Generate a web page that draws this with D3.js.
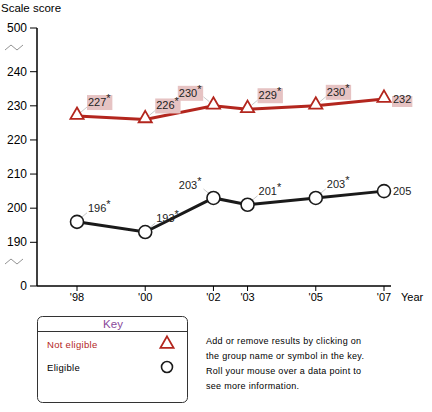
<!DOCTYPE html>
<html>

<head>
    <meta charset="UTF-8">
    <style>
        body { margin: 0; background: #fff; }
        svg { font-family: "Liberation Sans", Arial, sans-serif; }
        .info { font-size: 9px; letter-spacing: 0.3px; }
    </style>
    <title>Scale score by year</title>
</head>

<body>
    <svg></svg>
    <script src="https://d3js.org/d3.v7.min.js"></script>

    <script>
        let width = 432, height = 412;

        // chart data
        const years = [1998, 2000, 2002, 2003, 2005, 2007];
        const yearLabels = ["'98", "'00", "'02", "'03", "'05", "'07"];
        const notEligible = [227, 226, 230, 229, 230, 232];
        const eligible = [196, 193, 203, 201, 203, 205];
        const significant = [true, true, true, true, true, false];
        const yTicks = [190, 200, 210, 220, 230, 240];

        const red = "#b3261e", dark = "#1a1a1a";

        let svg = d3.select("svg")
            .attr("width", width)
            .attr("height", height)
            .attr("viewBox", "0 0 " + width + " " + height);

        // scales
        const x = d3.scaleLinear().domain([1998, 2007]).range([77, 384]);
        const y = d3.scaleLinear().domain([190, 240]).range([242.3, 71.7]);

        // y axis
        const yAxis = svg.append("g").attr("transform", "translate(37,0)");
        yAxis.append("line").attr("x1", 0).attr("x2", 0).attr("y1", 28).attr("y2", 286)
            .attr("stroke", "#000").attr("stroke-width", 1.5);
        const yt = yTicks.map(v => ({ label: v, pos: y(v) }))
            .concat([{ label: 500, pos: 28 }, { label: 0, pos: 286 }]);
        yAxis.selectAll(".yt").data(yt).enter().append("line")
            .attr("x1", -7).attr("x2", 0)
            .attr("y1", d => d.pos).attr("y2", d => d.pos)
            .attr("stroke", "#000");
        yAxis.selectAll(".yl").data(yt).enter().append("text")
            .attr("x", -10).attr("y", d => d.pos + 4)
            .attr("text-anchor", "end")
            .style("font-size", "12px")
            .text(d => d.label);

        // axis break marks
        [48, 262].forEach(function (by) {
            svg.append("path")
                .attr("d", "M5," + (by + 2) + " L11," + (by - 3) + " L17," + (by + 2) + " L23," + (by - 3))
                .attr("fill", "none").attr("stroke", "#777").attr("stroke-width", 0.8);
        });

        svg.append("text").attr("x", 1).attr("y", 12)
            .style("font-size", "11.5px").text("Scale score");

        // x axis
        svg.append("line").attr("x1", 37).attr("x2", 391).attr("y1", 286).attr("y2", 286)
            .attr("stroke", "#000").attr("stroke-width", 1.5);
        svg.selectAll(".xt").data(years).enter().append("line")
            .attr("x1", d => x(d)).attr("x2", d => x(d))
            .attr("y1", 286).attr("y2", 291).attr("stroke", "#000");
        svg.selectAll(".xl").data(years).enter().append("text")
            .attr("x", (d, i) => x(d)).attr("y", 301)
            .attr("text-anchor", "middle")
            .style("font-size", "11px")
            .text((d, i) => yearLabels[i]);
        svg.append("text").attr("x", 401).attr("y", 301)
            .style("font-size", "11px").text("Year");

        const line = d3.line().x(d => x(d.year)).y(d => y(d.v));

        function drawSeries(values, color, shape, pink) {
            const pts = years.map((yr, i) => ({ year: yr, v: values[i], i: i }));
            const g = svg.append("g");

            g.append("path").datum(pts)
                .attr("d", line)
                .attr("fill", "none")
                .attr("stroke", color)
                .attr("stroke-width", 3);

            // labels
            pts.forEach(function (d) {
                const px = x(d.year), py = y(d.v);
                let tx, ty, anchor = "start", lead = true;
                if (d.i === years.length - 1) {
                    tx = px + 9; ty = py + 4; lead = false;
                } else if (d.year === 2002) {
                    tx = px - 12; ty = py - 9; anchor = "end";
                } else {
                    tx = px + 11; ty = py - 10;
                }
                if (lead) {
                    const sx = anchor === "end" ? -1 : 1;
                    g.append("line")
                        .attr("x1", px + sx * 4).attr("y1", py - 4)
                        .attr("x2", px + sx * 10).attr("y2", py - 9)
                        .attr("stroke", "#bbb").attr("stroke-width", 0.8);
                }
                const t = g.append("text")
                    .attr("x", tx).attr("y", ty)
                    .attr("text-anchor", anchor)
                    .style("font-size", "11px")
                    .attr("fill", "#222");
                t.append("tspan").text(d.v);
                if (significant[d.i]) {
                    t.append("tspan").attr("dy", -4).style("font-size", "11px").text("*");
                }
                if (pink) {
                    const bb = t.node().getBBox();
                    g.insert("rect", "text")
                        .attr("x", bb.x - 1).attr("y", bb.y + 3)
                        .attr("width", bb.width + 2).attr("height", bb.height - 1)
                        .attr("fill", "#e6c3c3");
                }
            });

            // markers
            if (shape === "circle") {
                g.selectAll("circle").data(pts).enter().append("circle")
                    .attr("cx", d => x(d.year)).attr("cy", d => y(d.v))
                    .attr("r", 6.5)
                    .attr("fill", "#fff").attr("stroke", color).attr("stroke-width", 1.6);
            } else {
                g.selectAll(".tri").data(pts).enter().append("path")
                    .attr("d", d3.symbol().type(d3.symbolTriangle).size(75))
                    .attr("transform", d => "translate(" + x(d.year) + "," + (y(d.v) - 1) + ")")
                    .attr("fill", "#fff").attr("stroke", color).attr("stroke-width", 1.8);
            }
        }

        drawSeries(notEligible, red, "triangle", true);
        drawSeries(eligible, dark, "circle", false);

        // key box
        const key = svg.append("g");
        key.append("rect").attr("x", 37.5).attr("y", 316.5).attr("width", 150).attr("height", 86)
            .attr("rx", 5).attr("fill", "#fff").attr("stroke", "#333");
        key.append("line").attr("x1", 38).attr("x2", 187).attr("y1", 331.5).attr("y2", 331.5)
            .attr("stroke", "#333");
        key.append("text").attr("x", 113).attr("y", 328).attr("text-anchor", "middle")
            .attr("fill", "#8a4a9a").style("font-size", "11.5px").text("Key");
        key.append("text").attr("x", 47).attr("y", 348).attr("fill", red)
            .style("font-size", "9.5px").style("letter-spacing", "0.3px").text("Not eligible");
        key.append("text").attr("x", 47).attr("y", 371).attr("fill", "#000")
            .style("font-size", "9.5px").style("letter-spacing", "0.3px").text("Eligible");
        key.append("path").attr("d", d3.symbol().type(d3.symbolTriangle).size(75))
            .attr("transform", "translate(167,344)")
            .attr("fill", "#fff").attr("stroke", red).attr("stroke-width", 1.8);
        key.append("circle").attr("cx", 167).attr("cy", 367).attr("r", 5.5)
            .attr("fill", "#fff").attr("stroke", dark).attr("stroke-width", 1.6);

        // instructions
        const info = ["Add or remove results by clicking on", "the group name or symbol in the key.",
            "Roll your mouse over a data point to", "see more information."];
        svg.selectAll(".info").data(info).enter().append("text")
            .attr("class", "info")
            .attr("x", 206).attr("y", (d, i) => 344 + i * 15)
            .text(d => d);
    </script>
</body>

</html>
